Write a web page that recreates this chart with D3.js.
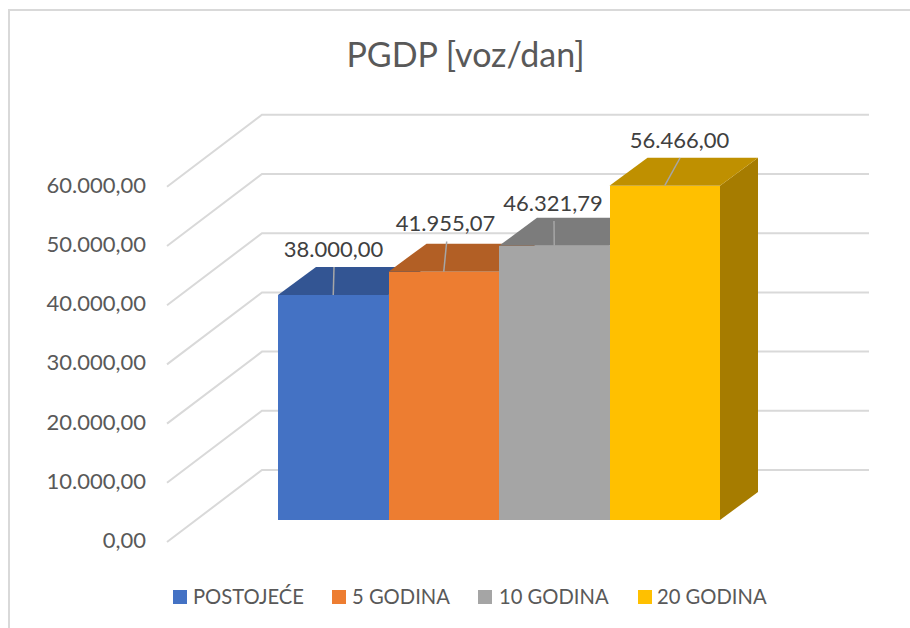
<!DOCTYPE html>
<html><head><meta charset="utf-8">
<script src="https://cdn.jsdelivr.net/npm/d3@7"></script>
<style>html,body{margin:0;padding:0;background:#fff}svg{display:block}text{font-family:Lato,"Open Sans",sans-serif}</style>
</head><body><svg id="c" width="910" height="628"></svg>
<script>
const categories=["POSTOJEĆE","5 GODINA","10 GODINA","20 GODINA"];
const values=[38000,41955.07,46321.79,56466];
const valueLabels=["38.000,00","41.955,07","46.321,79","56.466,00"];
const ticks=[0,10000,20000,30000,40000,50000,60000];
const tickLabels=["0,00","10.000,00","20.000,00","30.000,00","40.000,00","50.000,00","60.000,00"];
const frontColors=["#4472C4","#ED7D31","#A5A5A5","#FFC000"];
const topColors=["#335593","#B25F25","#7C7C7C","#BF9000"];
const sideColor="#A67C00";
const labelAnchors=[[334,267,333.5,257],[446.7,241.5,445.5,231],[554,221,553,211],[680,158,679.5,148]];

const svg=d3.select("#c");
svg.append("rect").attr("x",9).attr("y",10).attr("width",950).attr("height",700)
  .attr("fill","#fff").attr("stroke","#D9D9D9").attr("stroke-width",2);

const h=d3.scaleLinear().domain([0,60000]).range([0,355.2]);
const x=d3.scaleBand().domain(categories).range([278,720]).padding(0);
const dx=38,dy=-28;
const yFront=520,yBack=470,yAxis=542;

const g=svg.append("g").attr("fill","none").attr("stroke","#D9D9D9").attr("stroke-width",2);
ticks.forEach(t=>{
  g.append("path").attr("d",d3.line()([[167,yAxis-h(t)],[262,yBack-h(t)],[869,yBack-h(t)]]));
});
tickLabels.forEach((l,i)=>{
  svg.append("text").attr("x",146).attr("y",yAxis-h(ticks[i])+6).attr("text-anchor","end")
    .attr("font-size",22).attr("fill","#595959").text(l);
});
const last=categories.length-1;
const xr=x(categories[last])+x.bandwidth();
svg.append("path").attr("d",d3.line()([[xr,yFront],[xr+dx,yFront+dy],[xr+dx,yFront-h(values[last])+dy],[xr,yFront-h(values[last])]])).attr("fill",sideColor);
categories.forEach((c,i)=>{
  const x0=x(c),w=x.bandwidth(),t=yFront-h(values[i]);
  svg.append("path").attr("d",d3.line()([[x0,t],[x0+dx,t+dy],[x0+w+dx,t+dy],[x0+w,t]])).attr("fill",topColors[i]);
});
categories.forEach((c,i)=>{
  const x0=x(c),w=x.bandwidth(),t=yFront-h(values[i]);
  svg.append("rect").attr("x",x0).attr("y",t).attr("width",w).attr("height",h(values[i])).attr("fill",frontColors[i]).attr("shape-rendering","crispEdges");
});
categories.forEach((c,i)=>{
  const x0=x(c),w=x.bandwidth(),t=yFront-h(values[i]);
  const a=labelAnchors[i];
  svg.append("line").attr("x1",x0+w*0.5).attr("y1",t).attr("x2",a[0]).attr("y2",a[1]).attr("stroke","#A6A6A6").attr("stroke-width",1.5);
  svg.append("text").attr("x",a[2]).attr("y",a[3]).attr("text-anchor","middle").attr("font-size",22).attr("fill","#404040").text(valueLabels[i]);
});
svg.append("text").attr("x",465.5).attr("y",67).attr("text-anchor","middle").attr("font-size",34).attr("fill","#595959").text("PGDP [voz/dan]");
const legendX=[173,332,478,638],legendText=[193,352,499,657];
categories.forEach((c,i)=>{
  svg.append("rect").attr("x",legendX[i]).attr("y",590).attr("width",14).attr("height",14).attr("fill",frontColors[i]);
  svg.append("text").attr("x",legendText[i]).attr("y",604).attr("font-size",20.2).attr("fill","#595959").text(c);
});
</script></body></html>
